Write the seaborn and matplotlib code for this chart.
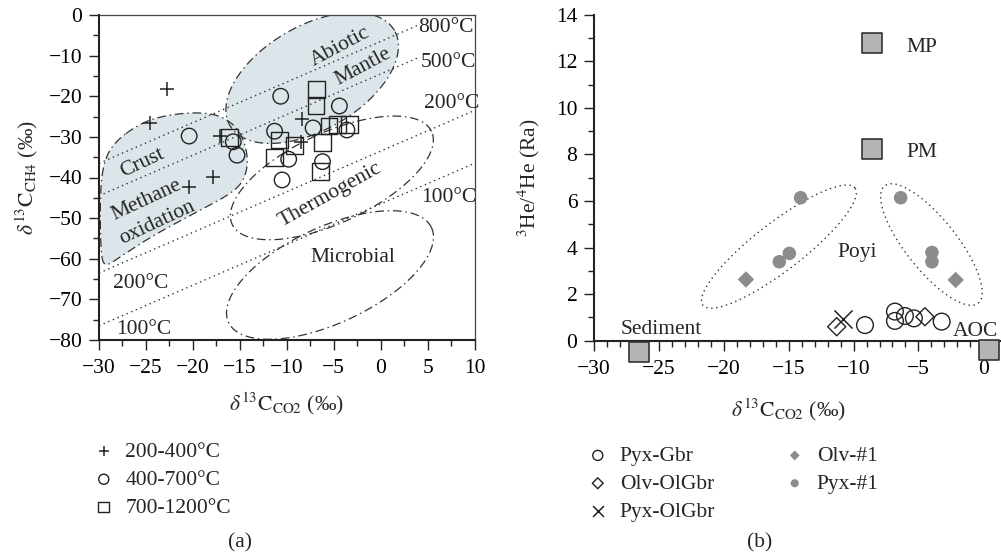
import numpy as np
import pandas as pd
import matplotlib
matplotlib.use('Agg')
import matplotlib.pyplot as plt
import seaborn as sns
from matplotlib.ticker import MultipleLocator

# ---- panel (a): d13C-CH4 vs d13C-CO2 ----
plus_x = [-22.8, -24.6, -17.1, -20.4, -17.9, -8.4, -8.5]
plus_y = [-18.3, -26.5, -29.8, -42.4, -39.9, -25.6, -31.3]
circ_x = [-20.4, -15.7, -15.3, -10.65, -11.3, -9.8, -10.5, -7.2, -4.4, -3.6, -6.2]
circ_y = [-29.8, -31.2, -34.5, -20.0, -28.6, -35.5, -40.6, -27.8, -22.4, -28.3, -36.1]
sq_x = [-16.1, -6.8, -6.9, -10.8, -9.2, -11.3, -6.2, -5.5, -4.6, -3.3, -6.4]
sq_y = [-30.2, -18.3, -22.2, -30.8, -32.2, -35.1, -31.4, -27.3, -26.9, -26.9, -38.6]

# isotherms: CH4 = CO2 - offset
iso_T = ['800°C', '500°C', '200°C', '100°C']
iso_offset = [6.5, 14.5, 33.5, 46.5]
iso_xend = [3.9, 3.9, 10, 10]
iso_lab_x = [4.0, 4.3, 4.6, 4.3]
iso_lab_y = [-3.2, -11.6, -21.9, -44.8]

# crust / methane oxidation field outline
crust_x = [-28.5, -25.6, -22.8, -19.2, -16.9, -15.0, -14.1, -14.4, -15.8, -19.2, -24.6, -28.5, -29.4, -29.8, -29.9, -29.6]
crust_y = [-31.5, -26.6, -24.6, -23.9, -24.9, -28.3, -34.5, -40.2, -43.8, -48.0, -54.7, -60.8, -61.8, -59.1, -45.6, -37.0]

# ---- panel (b): 3He/4He vs d13C-CO2 ----
gbr_x = [-9.12, -6.81, -6.81, -6.04, -5.35, -3.21]
gbr_y = [0.67, 1.25, 0.85, 1.06, 0.96, 0.82]
olvgbr_x = [-11.3, -4.5]
olvgbr_y = [0.60, 1.03]
pyxolgbr_x = [-10.8]
pyxolgbr_y = [0.95]
olv1_x = [-18.29, -2.13]
olv1_y = [2.63, 2.61]
pyx1_x = [-14.08, -6.37, -15.72, -14.95, -3.96, -3.96]
pyx1_y = [6.14, 6.14, 3.39, 3.75, 3.79, 3.39]
end_names = ['MP', 'PM', 'Sediment', 'AOC']
end_x = [-8.56, -8.6, -26.5, 0.43]
end_y = [12.77, 8.22, -0.47, -0.4]

W, H = 1001, 559
sns.set_theme(style='ticks')
plt.rcParams['font.family'] = ['Liberation Serif', 'DejaVu Serif']
plt.rcParams['mathtext.fontset'] = 'stix'
plt.rcParams['axes.unicode_minus'] = True
FS = 15.5

fig = plt.figure(figsize=(W / 100, H / 100), dpi=100)
fig.patch.set_facecolor('white')

a1 = (99, 15, 474.6, 340)
a2 = (594, 14.7, 1000.2, 340.7)
ax1 = fig.add_axes([a1[0] / W, 1 - a1[3] / H, (a1[2] - a1[0]) / W, (a1[3] - a1[1]) / H])
ax2 = fig.add_axes([a2[0] / W, 1 - a2[3] / H, (a2[2] - a2[0]) / W, (a2[3] - a2[1]) / H])

xl1, yl1 = (-30, 10), (-80, 0)
xl2, yl2 = (-30, 1.3), (0, 14)
sx1 = (a1[2] - a1[0]) / (xl1[1] - xl1[0])
sy1 = (a1[3] - a1[1]) / (yl1[1] - yl1[0])
sx2 = (a2[2] - a2[0]) / (xl2[1] - xl2[0])
sy2 = (a2[3] - a2[1]) / (yl2[1] - yl2[0])


def ellipse(cx, cy, a, b, ang, sx, sy, n=240):
    # a, b in pixels, angle in screen degrees
    t = np.linspace(0, 2 * np.pi, n)
    th = np.radians(ang)
    dx = a * np.cos(th) * np.cos(t) - b * np.sin(th) * np.sin(t)
    dy = a * np.sin(th) * np.cos(t) + b * np.cos(th) * np.sin(t)
    return cx + dx / sx, cy + dy / sy


def chaikin(xs, ys, n=4):
    pts = np.column_stack([xs, ys])
    for _ in range(n):
        nxt = np.roll(pts, -1, axis=0)
        q = 0.75 * pts + 0.25 * nxt
        r = 0.25 * pts + 0.75 * nxt
        pts = np.empty((2 * len(q), 2))
        pts[0::2] = q
        pts[1::2] = r
    return np.append(pts[:, 0], pts[0, 0]), np.append(pts[:, 1], pts[0, 1])


fill_c = '#dbe5ea'
dd = (0, (7, 3, 1.2, 3))

# ---------------- panel (a) ----------------
ex, ey = ellipse(-7.3, -15.5, 95, 52, 30, sx1, sy1)
ax1.fill(ex, ey, color=fill_c, lw=0, zorder=0)
ax1.plot(ex, ey, ls=dd, lw=0.9, color='#333333', zorder=1)
cx, cy = chaikin(crust_x, crust_y)
ax1.fill(cx, cy, color=fill_c, lw=0, zorder=0)
ax1.plot(cx, cy, ls=dd, lw=0.9, color='#333333', zorder=1)
for (ccx, ccy, a, b, ang) in [(-5.2, -40.1, 110, 45, 25), (-5.4, -64.0, 112, 48, 25)]:
    ex, ey = ellipse(ccx, ccy, a, b, ang, sx1, sy1)
    ax1.plot(ex, ey, ls=dd, lw=0.9, color='#333333', zorder=1)

for T, off, xe, lx, ly in zip(iso_T, iso_offset, iso_xend, iso_lab_x, iso_lab_y):
    xx = np.array([-30, xe])
    ax1.plot(xx, xx - off, ls=(0, (1, 2.6)), lw=1.0, color='#333333', zorder=1)
    ax1.text(lx, ly, T, fontsize=FS, va='center', ha='left')
ax1.text(-28.5, -66.0, '200°C', fontsize=FS, va='center', ha='left')
ax1.text(-28.2, -77.3, '100°C', fontsize=FS, va='center', ha='left')

ax1.text(-4.3, -7.9, 'Abiotic', fontsize=FS, rotation=28, ha='center', va='center')
ax1.text(-1.9, -12.8, 'Mantle', fontsize=FS, rotation=28, ha='center', va='center')
ax1.text(-25.4, -36.5, 'Crust', fontsize=FS, rotation=25, ha='center', va='center')
ax1.text(-24.9, -45.6, 'Methane', fontsize=FS, rotation=25, ha='center', va='center')
ax1.text(-23.8, -51.2, 'oxidation', fontsize=FS, rotation=25, ha='center', va='center')
ax1.text(-5.4, -44.3, 'Thermogenic', fontsize=FS, rotation=29, ha='center', va='center')
ax1.text(-3.0, -59.6, 'Microbial', fontsize=FS, ha='center', va='center')

sns.scatterplot(x=plus_x, y=plus_y, marker='+', s=110, color='#222222', linewidth=1.1,
                ax=ax1, label='200-400°C', zorder=3)
sns.scatterplot(x=circ_x, y=circ_y, marker='o', s=125, facecolor='none', edgecolor='#222222',
                linewidth=1.0, ax=ax1, label='400-700°C', zorder=3)
sns.scatterplot(x=sq_x, y=sq_y, marker='s', s=145, facecolor='none', edgecolor='#222222',
                linewidth=1.0, ax=ax1, label='700-1200°C', zorder=3)

ax1.set_xlim(*xl1)
ax1.set_ylim(*yl1)
ax1.xaxis.set_major_locator(MultipleLocator(5))
ax1.xaxis.set_minor_locator(MultipleLocator(2.5))
ax1.yaxis.set_major_locator(MultipleLocator(10))
ax1.yaxis.set_minor_locator(MultipleLocator(5))
for s in ['left', 'bottom']:
    ax1.spines[s].set_linewidth(1.5)
    ax1.spines[s].set_color('#222222')
for s in ['top', 'right']:
    ax1.spines[s].set_visible(True)
    ax1.spines[s].set_linewidth(0.9)
    ax1.spines[s].set_color('#444444')
ax1.set_xlabel(r'$\delta^{13}\mathrm{C}_{\mathrm{CO2}}$ (‰)', fontsize=FS, labelpad=9)
ax1.set_ylabel(r'$\delta^{13}\mathrm{C}_{\mathrm{CH4}}$ (‰)', fontsize=FS, labelpad=6)

# ---------------- panel (b) ----------------
for (ccx, ccy, a, b, ang) in [(-15.75, 4.04, 96, 24, 37.6), (-4.0, 4.13, 75, 25.5, -51.5)]:
    ex, ey = ellipse(ccx, ccy, a, b, ang, sx2, sy2)
    ax2.plot(ex, ey, ls=(0, (1, 2.6)), lw=1.0, color='#333333', zorder=1)

sns.scatterplot(x=gbr_x, y=gbr_y, marker='o', s=145, facecolor='none', edgecolor='#222222',
                linewidth=1.0, ax=ax2, label='Pyx-Gbr', zorder=3)
sns.scatterplot(x=olvgbr_x, y=olvgbr_y, marker='D', s=85, facecolor='none', edgecolor='#222222',
                linewidth=1.0, ax=ax2, label='Olv-OlGbr', zorder=3)
sns.scatterplot(x=pyxolgbr_x, y=pyxolgbr_y, marker='x', s=170, color='#222222', linewidth=1.1,
                ax=ax2, label='Pyx-OlGbr', zorder=3)
sns.scatterplot(x=olv1_x, y=olv1_y, marker='D', s=70, color='#8c8c8c', edgecolor='none',
                ax=ax2, label='Olv-#1', zorder=3)
sns.scatterplot(x=pyx1_x, y=pyx1_y, marker='o', s=95, color='#8c8c8c', edgecolor='none',
                ax=ax2, label='Pyx-#1', zorder=3)
ends = pd.DataFrame({'x': end_x, 'y': end_y, 'name': end_names})
sns.scatterplot(data=ends, x='x', y='y', marker='s', s=195, color='#b4b4b6', edgecolor='#333333',
                linewidth=1.2, ax=ax2, zorder=4, clip_on=False, legend=False)

ax2.text(-5.9, 12.6, 'MP', fontsize=FS, va='center', ha='left')
ax2.text(-5.9, 8.1, 'PM', fontsize=FS, va='center', ha='left')
ax2.text(-9.7, 3.8, 'Poyi', fontsize=FS, va='center', ha='center')
ax2.text(-24.8, 0.46, 'Sediment', fontsize=FS, va='center', ha='center')
ax2.text(-2.35, 0.39, 'AOC', fontsize=FS, va='center', ha='left')

ax2.set_xlim(*xl2)
ax2.set_ylim(*yl2)
ax2.set_xticks(np.arange(-30, 1, 5))
ax2.xaxis.set_minor_locator(MultipleLocator(1))
ax2.yaxis.set_major_locator(MultipleLocator(2))
ax2.yaxis.set_minor_locator(MultipleLocator(1))
sns.despine(ax=ax2)
for s in ['left', 'bottom']:
    ax2.spines[s].set_linewidth(1.5)
    ax2.spines[s].set_color('#222222')
ax2.set_xlabel(r'$\delta^{13}\mathrm{C}_{\mathrm{CO2}}$ (‰)', fontsize=FS)
ax2.set_ylabel(r'$^{3}$He/$^{4}$He (Ra)', fontsize=FS, labelpad=10)
ax2.xaxis.set_label_coords(0.478, -0.17)

for ax in (ax1, ax2):
    ax.tick_params(which='major', direction='out', length=7, width=1.0, colors='#222222',
                   labelsize=FS, labelcolor='black', pad=5)
    ax.tick_params(which='minor', direction='out', length=4, width=1.0, colors='#222222')
    ax.set_facecolor('white')
ax1.tick_params(axis='x', which='major', pad=6.5)
ax2.tick_params(axis='x', which='major', pad=7)

# legends below the panels
h1, l1 = ax1.get_legend_handles_labels()
ax1.legend(h1, l1, loc='upper left', bbox_to_anchor=(93 / W, 1 - 442 / H),
           bbox_transform=fig.transFigure, frameon=False, fontsize=FS, handlelength=1.0,
           handletextpad=0.5, labelspacing=0.36, borderpad=0, borderaxespad=0,
           markerscale=0.65)
h2, l2 = ax2.get_legend_handles_labels()
ax2.legend(h2, l2, loc='upper left', bbox_to_anchor=(587 / W, 1 - 446 / H),
           bbox_transform=fig.transFigure, frameon=False, fontsize=FS, handlelength=1.0,
           handletextpad=0.52, labelspacing=0.36, borderpad=0, borderaxespad=0,
           markerscale=0.6, ncol=2, columnspacing=3.2)

fig.text(240 / W, 1 - 543 / H, '(a)', fontsize=FS, ha='center', va='center')
fig.text(760 / W, 1 - 543 / H, '(b)', fontsize=FS, ha='center', va='center')

fig.savefig('out.png', dpi=100)
